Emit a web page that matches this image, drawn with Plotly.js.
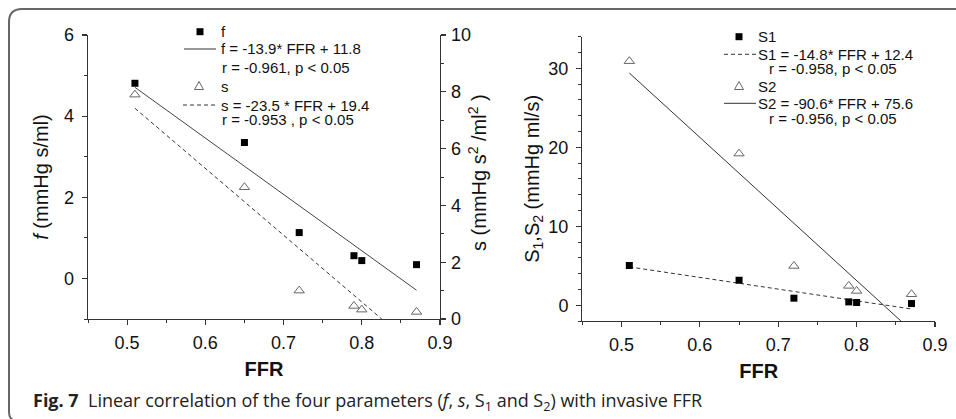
<!DOCTYPE html>
<html>
<head>
<meta charset="utf-8">
<script src="https://cdn.plot.ly/plotly-3.0.1.min.js"></script>
<style>html,body{margin:0;padding:0;background:#fff;}#chart{width:956px;height:419px;}</style>
</head>
<body>
<div id="chart"></div>
<script>
// ---- data ----
const ffr = [0.51, 0.65, 0.72, 0.79, 0.80, 0.87];
const fVals = [4.81, 3.35, 1.13, 0.56, 0.44, 0.34];
const sVals = [7.9, 4.64, 1.0, 0.46, 0.33, 0.25];
const s1Vals = [5.02, 3.16, 0.89, 0.42, 0.34, 0.21];
const s2Vals = [30.9, 19.2, 4.97, 2.45, 1.81, 1.39];
// fitted lines (endpoints as drawn)
const fitFX = [0.51, 0.87];   const fitFY = [4.71, -0.29];
const fitSX = [0.51, 0.8255]; const fitSY = [7.42, 0];
const fitS1X = [0.51, 0.87];  const fitS1Y = [4.85, -0.48];
const fitS2X = [0.51, 0.8565];const fitS2Y = [29.4, -2.0];
const xTicks = [0.5, 0.6, 0.7, 0.8, 0.9];
const xTickText = ['0.5', '0.6', '0.7', '0.8', '0.9'];
const legendLeft = ['f', 'f = -13.9* FFR + 11.8', 'r = -0.961, p < 0.05', 's', 's = -23.5 * FFR + 19.4', 'r = -0.953 , p < 0.05'];
const legendRight = ['S1', 'S1 = -14.8* FFR + 12.4', 'r = -0.958, p < 0.05', 'S2', 'S2 = -90.6* FFR + 75.6', 'r = -0.956, p < 0.05'];
const titleF = '<i>f</i> (mmHg s/ml)';
const titleS = 's (mmHg s<sup>2</sup> /ml<sup>2</sup> )';
const titleS12 = 'S<sub>1</sub>,S<sub>2</sub> (mmHg ml/s)';
const titleX = '<b>FFR</b>';
const caption = '<b>Fig. 7</b>  Linear correlation of the four parameters (<i>f</i>, <i>s</i>, S<sub>1</sub> and S<sub>2</sub>) with invasive FFR';

// ---- helpers (pixel -> paper) ----
const W = 956, H = 419;
const px = x => x / W;
const py = y => 1 - y / H;

const FONT = 'Liberation Sans, Arial, sans-serif';
const LINEC = '#333';
const TRIC = '#666';

const traces = [
  {x: fitFX, y: fitFY, xaxis: 'x', yaxis: 'y', mode: 'lines', line: {color: '#444', width: 1}},
  {x: fitSX, y: fitSY, xaxis: 'x', yaxis: 'y2', mode: 'lines', line: {color: LINEC, width: 1, dash: '4px,3px'}},
  {x: ffr, y: fVals, xaxis: 'x', yaxis: 'y', mode: 'markers', marker: {symbol: 'square', size: 7, color: '#000'}},
  {x: ffr, y: sVals, xaxis: 'x', yaxis: 'y2', mode: 'markers', marker: {symbol: 'triangle-up-open', size: 9, color: TRIC, line: {width: 1, color: TRIC}}},
  {x: fitS1X, y: fitS1Y, xaxis: 'x2', yaxis: 'y3', mode: 'lines', line: {color: LINEC, width: 1, dash: '4px,3px'}},
  {x: fitS2X, y: fitS2Y, xaxis: 'x2', yaxis: 'y3', mode: 'lines', line: {color: LINEC, width: 1}},
  {x: ffr, y: s1Vals, xaxis: 'x2', yaxis: 'y3', mode: 'markers', marker: {symbol: 'square', size: 7, color: '#000'}},
  {x: ffr, y: s2Vals, xaxis: 'x2', yaxis: 'y3', mode: 'markers', marker: {symbol: 'triangle-up-open', size: 9, color: TRIC, line: {width: 1, color: TRIC}}}
];

const axCommon = {
  showline: true, linecolor: LINEC, linewidth: 1.3, showgrid: false, zeroline: false,
  ticks: 'outside', ticklen: 5, tickwidth: 1.2, tickcolor: LINEC,
  tickfont: {family: FONT, size: 18, color: '#111'},
  minor: {ticks: 'outside', ticklen: 3, tickwidth: 1, tickcolor: LINEC}
};
const xAx = (dom, anchor) => Object.assign({}, axCommon, {
  domain: dom, anchor: anchor, range: [0.45, 0.9], tickvals: xTicks, ticktext: xTickText,
  minor: Object.assign({}, axCommon.minor, {tickvals: [0.45, 0.55, 0.65, 0.75, 0.85]}),
  ticklabelstandoff: 2,
  title: {text: titleX, font: {family: FONT, size: 20, color: '#111'}, standoff: 10}
});

const layout = {
  width: W, height: H, margin: {l: 0, r: 0, t: 0, b: 0},
  paper_bgcolor: '#fff', plot_bgcolor: 'rgba(0,0,0,0)', showlegend: false,
  xaxis: xAx([px(88), px(440)], 'y'),
  yaxis: Object.assign({}, axCommon, {
    domain: [py(319), py(35)], anchor: 'x', range: [-1, 6], tick0: 0, dtick: 2,
    minor: Object.assign({}, axCommon.minor, {dtick: 1, tick0: 0}), ticklabelstandoff: 4,
    title: {text: titleF, font: {family: FONT, size: 20, color: '#111'}, standoff: 10}
  }),
  yaxis2: Object.assign({}, axCommon, {
    overlaying: 'y', side: 'right', anchor: 'x', range: [0, 10], tick0: 0, dtick: 2,
    minor: Object.assign({}, axCommon.minor, {dtick: 1, tick0: 0}), ticklabelstandoff: 1
  }),
  xaxis2: xAx([px(582.3), px(935)], 'y3'),
  yaxis3: Object.assign({}, axCommon, {
    domain: [py(321), py(36.7)], anchor: 'x2', range: [-2, 34], tick0: 0, dtick: 10,
    minor: Object.assign({}, axCommon.minor, {dtick: 2, tick0: 0}), ticklabelstandoff: 4,
    title: {text: titleS12, font: {family: FONT, size: 20, color: '#111'}, standoff: 3}
  }),
  shapes: [],
  annotations: []
};

// right-side title of the left panel (placed close to its tick labels as in the figure)
layout.annotations.push({xref: 'paper', yref: 'paper', x: px(477), y: py(173), xanchor: 'center', yanchor: 'middle',
  textangle: -90, text: titleS, showarrow: false, font: {family: FONT, size: 20, color: '#111'}});

// frame
layout.shapes.push({type: 'path', xref: 'paper', yref: 'paper', layer: 'below',
  path: `M ${px(960)},${py(9)} L ${px(22)},${py(9)} Q ${px(9)},${py(9)} ${px(9)},${py(22)} L ${px(9)},${py(412)} Q ${px(9)},${py(420)} ${px(16)},${py(421)}`,
  line: {color: '#666', width: 2}});

// legend helpers
function legText(t, x, y) {
  layout.annotations.push({xref: 'paper', yref: 'paper', x: px(x), y: py(y), xanchor: 'left', yanchor: 'middle',
    text: t, showarrow: false, font: {family: FONT, size: 15, color: '#111'}});
}
function legSquare(cx, cy) {
  layout.shapes.push({type: 'rect', xref: 'paper', yref: 'paper', x0: px(cx - 3.5), x1: px(cx + 3.5), y0: py(cy + 3.5), y1: py(cy - 3.5),
    fillcolor: '#000', line: {width: 0}});
}
function legTri(cx, cy) {
  layout.shapes.push({type: 'path', xref: 'paper', yref: 'paper',
    path: `M ${px(cx)},${py(cy - 4.5)} L ${px(cx + 4.5)},${py(cy + 3.5)} L ${px(cx - 4.5)},${py(cy + 3.5)} Z`,
    line: {color: TRIC, width: 1}});
}
function legLine(x0, x1, y, dash) {
  layout.shapes.push({type: 'line', xref: 'paper', yref: 'paper', x0: px(x0), x1: px(x1), y0: py(y), y1: py(y),
    line: {color: LINEC, width: 1, dash: dash ? '4px,3px' : 'solid'}});
}

// left legend
legSquare(200, 31.7); legText(legendLeft[0], 219, 31.7);
legLine(184, 216, 49, false); legText(legendLeft[1], 219, 49);
legText(legendLeft[2], 220, 67);
legTri(199, 86); legText(legendLeft[3], 219, 86);
legLine(183, 216, 105, true); legText(legendLeft[4], 219, 105);
legText(legendLeft[5], 220, 119);

// right legend
legSquare(739, 36.7); legText(legendRight[0], 756, 36.7);
legLine(724, 756, 54.3, true); legText(legendRight[1], 756, 54.3);
legText(legendRight[2], 767, 69);
legTri(739, 86); legText(legendRight[3], 756, 86);
legLine(724, 756, 103.3, false); legText(legendRight[4], 756, 103.3);
legText(legendRight[5], 767, 118.5);

// caption
layout.annotations.push({xref: 'paper', yref: 'paper', x: px(31), y: py(401), xanchor: 'left', yanchor: 'middle',
  text: caption, showarrow: false, font: {family: 'Open Sans, Noto Sans, sans-serif', size: 18, color: '#222'}});

Plotly.newPlot('chart', traces, layout, {displayModeBar: false, staticPlot: true});
</script>
</body>
</html>
